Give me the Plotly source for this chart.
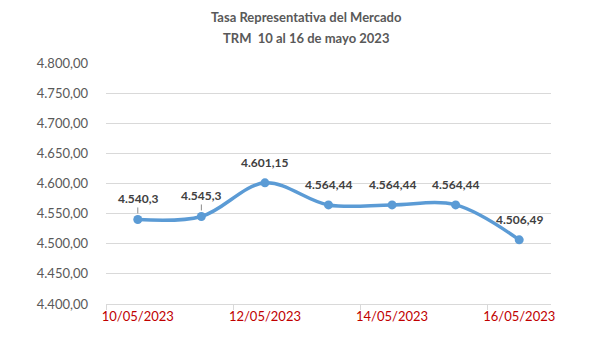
import plotly.graph_objects as go

# TRM daily values, 10-16 May 2023
fechas = ["10/05/2023", "11/05/2023", "12/05/2023", "13/05/2023",
          "14/05/2023", "15/05/2023", "16/05/2023"]
trm = [4540.3, 4545.3, 4601.15, 4564.44, 4564.44, 4564.44, 4506.49]
y_ticks = [4400, 4450, 4500, 4550, 4600, 4650, 4700, 4750, 4800]
titulo = ["Tasa Representativa del Mercado", "TRM  10 al 16 de mayo 2023"]

FONT = "Lato"
GRAY = "#595959"


def es_num(v):
    # Spanish-style number: dot for thousands, comma for decimals
    s = f"{v:,}"
    return s.replace(",", "_").replace(".", ",").replace("_", ".")


idx = list(range(len(fechas)))

fig = go.Figure()
fig.add_trace(go.Scatter(
    x=idx, y=trm, mode="lines+markers",
    line=dict(color="#5B9BD5", width=3.5, shape="spline", smoothing=1.0),
    marker=dict(color="#5B9BD5", size=9),
    hoverinfo="skip", showlegend=False,
))

annotations = []
for i, v in enumerate(trm):
    leader = i < 2
    a = dict(x=i, y=v, xref="x", yref="y", text=f"<b>{es_num(v)}</b>",
             font=dict(family=FONT, size=12, color="#404040"),
             xanchor="center", yanchor="middle")
    if leader:
        a.update(showarrow=True, ax=0, ay=-21, arrowhead=0, arrowwidth=1,
                 arrowcolor="#8C8C8C", standoff=6)
    else:
        a.update(showarrow=False, yshift=20)
    annotations.append(a)

# two-line chart title above the plot area
for line, shift in zip(titulo, [46, 25]):
    annotations.append(dict(
        x=0.45, y=1, xref="paper", yref="paper", xanchor="center",
        yanchor="middle", yshift=shift, showarrow=False,
        text=f"<b>{line}</b>",
        font=dict(family=FONT, size=13, color=GRAY),
    ))

fig.update_layout(
    width=601, height=338,
    margin=dict(l=106, r=50, t=63, b=34),
    paper_bgcolor="white", plot_bgcolor="white",
    separators=",.",
    annotations=annotations,
    xaxis=dict(
        range=[-0.5, len(fechas) - 0.5],
        tickmode="array", tickvals=idx[::2], ticktext=fechas[::2],
        tickfont=dict(family=FONT, size=13, color="#C00000"),
        ticks="", showgrid=False, zeroline=False,
        showline=True, linecolor="#D9D9D9", linewidth=1,
        minor=dict(ticks="outside", tick0=-0.5, dtick=2, ticklen=5,
                   tickcolor="#D9D9D9", tickwidth=1, showgrid=False),
        fixedrange=True,
    ),
    yaxis=dict(
        range=[4400, 4800], tickmode="array", tickvals=y_ticks,
        tickformat=",.2f",
        tickfont=dict(family=FONT, size=13, color=GRAY),
        showgrid=True, gridcolor="#D9D9D9", gridwidth=1,
        zeroline=False, showline=False, ticks="", ticklabelstandoff=17,
        fixedrange=True,
    ),
)

fig.write_html("out.html")
